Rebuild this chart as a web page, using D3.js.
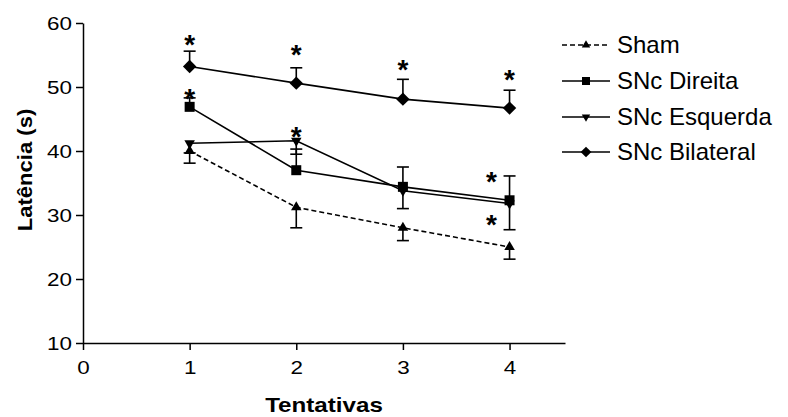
<!DOCTYPE html>
<html lang="pt">
<head>
<meta charset="UTF-8">
<title>Latência por tentativa</title>
<script src="https://d3js.org/d3.v7.min.js"></script>
<style>
    body { margin: 0; background: #fff; font-family: Arial, "Liberation Sans", sans-serif; }
    svg { display: block; }
    .axis path, .axis line { stroke: #000; stroke-width: 1.5px; }
    .axis text { font-size: 19px; fill: #000; font-family: Arial, "Liberation Sans", sans-serif; }
    .title { font-weight: bold; font-size: 21px; }
    .legend text { font-size: 24px; }
    .star { font-weight: bold; font-size: 28px; }
</style>
</head>
<body>
<svg width="788" height="417"></svg>
<script>
    // dados
    const tentativas = [1, 2, 3, 4];
    const grupos = ["Sham", "SNc Direita", "SNc Esquerda", "SNc Bilateral"];
    const sham = [40.0, 31.2, 28.0, 25.0];
    const shamErr = [1.9, 3.2, 2.0, 1.9];
    const direita = [46.9, 37.0, 34.4, 32.3];
    const direitaErr = [1.4, 3.3, 3.1, 3.8];
    const esquerda = [41.2, 41.6, 33.8, 31.8];
    const esquerdaErr = [1.5, 2.1, 2.8, 4.1];
    const bilateral = [53.2, 50.6, 48.1, 46.7];
    const bilateralErr = [2.4, 2.4, 3.1, 2.8];
    const yTicks = [10, 20, 30, 40, 50, 60];
    const xTicks = [0, 1, 2, 3, 4];
    // asteriscos de significância (posição em unidades dos eixos)
    const starX = [1, 1, 2, 2, 3, 4, 3.83, 3.83];
    const starY = [57.7, 49.2, 56.1, 43.3, 53.7, 52.2, 36.3, 29.5];

    const series = [
        { name: grupos[0], mean: sham, err: shamErr, dir: -1, symbol: "triUp", dash: "5,3" },
        { name: grupos[1], mean: direita, err: direitaErr, dir: 1, symbol: "square", dash: null },
        { name: grupos[2], mean: esquerda, err: esquerdaErr, dir: -1, symbol: "triDown", dash: null },
        { name: grupos[3], mean: bilateral, err: bilateralErr, dir: 1, symbol: "diamond", dash: null }
    ];

    const svg = d3.select("svg");
    const mLeft = 83, mRight = 565, mTop = 23, mBottom = 343;

    const x = d3.scaleLinear().domain([0, 4.52]).range([mLeft, mRight]);
    const y = d3.scaleLinear().domain([10, 60]).range([mBottom, mTop]);

    function symbolPath(kind, scale) {
        const k = scale || 1;
        if (kind === "triUp") return d3.symbol(d3.symbolTriangle, 48 * k * k)();
        if (kind === "triDown") return d3.symbol(d3.symbolTriangle, 48 * k * k)();
        if (kind === "square") return d3.symbol(d3.symbolSquare, 100 * k * k)();
        return d3.symbol(d3.symbolSquare, 90 * k * k)();
    }
    function symbolRot(kind) {
        if (kind === "triDown") return 180;
        if (kind === "diamond") return 45;
        return 0;
    }
    // o texto do original é um pouco mais largo que Arial
    function stretch(sel, f) {
        sel.each(function () {
            const w = this.getComputedTextLength();
            d3.select(this).attr("textLength", w * f).attr("lengthAdjust", "spacingAndGlyphs");
        });
    }

    // eixos
    const xAxis = svg.append("g")
        .attr("class", "axis")
        .attr("transform", `translate(0,${mBottom})`)
        .call(d3.axisBottom(x).tickValues(xTicks).tickFormat(d3.format("d")).tickSize(7).tickPadding(11).tickSizeOuter(0));

    const yAxis = svg.append("g")
        .attr("class", "axis")
        .attr("transform", `translate(${mLeft},0)`)
        .call(d3.axisLeft(y).tickValues(yTicks).tickSize(7).tickPadding(4).tickSizeOuter(0));

    stretch(xAxis.selectAll("text"), 1.18);
    stretch(yAxis.selectAll("text"), 1.18);

    svg.append("text")
        .attr("class", "title")
        .attr("x", (mLeft + mRight) / 2)
        .attr("y", 412)
        .attr("text-anchor", "middle")
        .text("Tentativas")
        .call(stretch, 1.15);

    svg.append("text")
        .attr("class", "title")
        .attr("transform", `translate(32,170) rotate(-90)`)
        .attr("text-anchor", "middle")
        .text("Latência (s)")
        .call(stretch, 1.05);

    const plot = svg.append("g");

    // linhas
    const line = d3.line()
        .x((d, i) => x(tentativas[i]))
        .y(d => y(d));

    series.forEach(s => {
        plot.append("path")
            .attr("d", line(s.mean))
            .attr("fill", "none")
            .attr("stroke", "#000")
            .attr("stroke-width", 1.6)
            .attr("stroke-dasharray", s.dash);
    });

    // barras de erro (uma direção)
    series.forEach(s => {
        const g = plot.append("g").attr("stroke", "#000").attr("stroke-width", 1.6);
        s.mean.forEach((m, i) => {
            const cx = x(tentativas[i]);
            const yEnd = y(m + s.dir * s.err[i]);
            g.append("line").attr("x1", cx).attr("x2", cx).attr("y1", y(m)).attr("y2", yEnd);
            g.append("line").attr("x1", cx - 6).attr("x2", cx + 6).attr("y1", yEnd).attr("y2", yEnd);
        });
    });

    // marcadores
    series.forEach(s => {
        plot.selectAll(null)
            .data(s.mean)
            .enter()
            .append("path")
            .attr("d", symbolPath(s.symbol))
            .attr("transform", (d, i) => `translate(${x(tentativas[i])},${y(d)}) rotate(${symbolRot(s.symbol)})`)
            .attr("fill", "#000");
    });

    // asteriscos
    plot.selectAll(".star")
        .data(starX)
        .enter()
        .append("text")
        .attr("class", "star")
        .attr("text-anchor", "middle")
        .attr("x", d => x(d))
        .attr("y", (d, i) => y(starY[i]) + 16)
        .text("*");

    // legenda
    const legendY = [45, 81, 117, 152];
    const legend = svg.append("g").attr("class", "legend");
    series.forEach((s, i) => {
        const g = legend.append("g").attr("transform", `translate(562,${legendY[i]})`);
        g.append("line")
            .attr("x1", 0).attr("x2", 48)
            .attr("stroke", "#000").attr("stroke-width", 1.6)
            .attr("stroke-dasharray", s.dash);
        g.append("path")
            .attr("d", symbolPath(s.symbol, 0.8))
            .attr("transform", `translate(24,0) rotate(${symbolRot(s.symbol)})`)
            .attr("fill", "#000");
        g.append("text")
            .attr("x", 55)
            .attr("dy", "0.35em")
            .text(s.name);
    });
</script>
</body>
</html>
